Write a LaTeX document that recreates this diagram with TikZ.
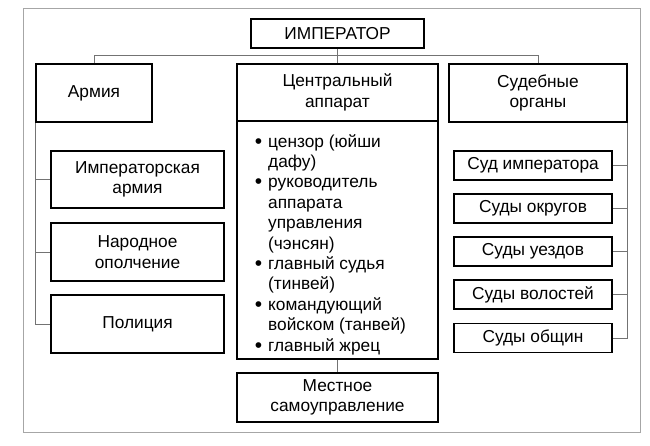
\documentclass[tikz,border=0pt]{standalone}
\usepackage{fontspec}
\setmainfont{Liberation Sans}
\newcommand{\itembul}{\leavevmode\llap{\raisebox{-1pt}{\fontsize{21}{20}\selectfont\textbullet}\hspace{6pt}}}
\begin{document}
\begin{tikzpicture}[x=1pt,y=-1pt,
  box/.style={draw=black,line width=1.1pt,inner sep=0pt,align=center,
    font=\fontsize{17.3}{20.4}\selectfont},
  conn/.style={draw=black!55,line width=0.9pt},
  frame/.style={draw=black!35,line width=1pt}]
\useasboundingbox (0,0) rectangle (650,445);
\draw[frame] (23,8) rectangle (640,432);
% top level
\node[box,minimum width=173pt,minimum height=29pt] (emp) at (337.5,33.5) {ИМПЕРАТОР};
\node[box,minimum width=116pt,minimum height=58pt] (army) at (94,93) {Армия};
\node[box,minimum width=201pt,minimum height=57pt] (chead) at (337.5,92.5) {Центральный\\аппарат};
\node[box,minimum width=201pt,minimum height=238pt] (cbody) at (337.5,240) {};
\node[box,minimum width=178pt,minimum height=58pt] (court) at (538,93) {Судебные\\органы};
% list
\node[anchor=base west,inner sep=0pt] (clist) at (268,147)
 {\parbox[t]{168pt}{\raggedright\fontsize{17.3}{20.4}\selectfont
  \itembul цензор (юйши\\
  дафу)\\
  \itembul руководитель\\
  аппарата\\
  управления\\
  (чэнсян)\\
  \itembul главный судья\\
  (тинвей)\\
  \itembul командующий\\
  войском (танвей)\\
  \itembul главный жрец}};
% army branch
\node[box,minimum width=173pt,minimum height=57pt] (imp) at (137.5,179.5) {Императорская\\армия};
\node[box,minimum width=173pt,minimum height=58pt] (narod) at (137.5,252) {Народное\\ополчение};
\node[box,minimum width=173pt,minimum height=58pt] (police) at (137.5,324) {Полиция};
% courts
\node[box,minimum width=158pt,minimum height=29pt] (c1) at (533,165.5) {Суд императора};
\node[box,minimum width=158pt,minimum height=29pt] (c2) at (533,208.5) {Суды округов};
\node[box,minimum width=158pt,minimum height=29pt] (c3) at (533,251.5) {Суды уездов};
\node[box,minimum width=158pt,minimum height=29pt] (c4) at (533,294.5) {Суды волостей};
\node[box,minimum width=158pt,minimum height=29pt] (c5) at (533,338) {Суды общин};
% local
\node[box,minimum width=201pt,minimum height=49pt] (local) at (337.5,397.5) {Местное\\самоуправление};
% connectors
\coordinate (hub) at (337.5,55.5);
\draw[conn] (emp.south) -- (chead.north);
\draw[conn] (army.north) -- (army.north |- hub) -- (court.north |- hub) -- (court.north);
\draw[conn] (army.south west) |- (police.west);
\draw[conn] (army.south west |- imp.west) -- (imp.west);
\draw[conn] (army.south west |- narod.west) -- (narod.west);
\draw[conn] (court.south east) |- (c5.east);
\foreach \c in {c1,c2,c3,c4} \draw[conn] (court.south east |- \c.east) -- (\c.east);
\draw[conn] (cbody.south) -- (local.north);
\end{tikzpicture}
\end{document}
